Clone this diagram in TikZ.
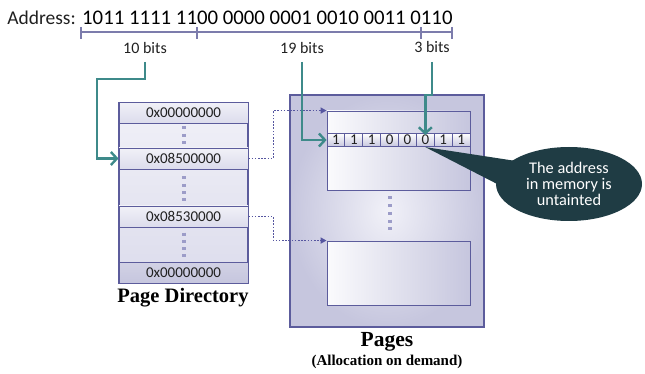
\documentclass[tikz,border=0pt]{standalone}
\usepackage{fontspec}
\setmainfont{Carlito}
\newfontfamily\titlefont{Liberation Serif}
\usetikzlibrary{arrows.meta,shapes.geometric,calc}

\definecolor{framecol}{HTML}{5C5C9C}
\definecolor{rulecol}{HTML}{7C7CAC}
\definecolor{pathteal}{HTML}{3E8A8A}
\definecolor{dotcol}{HTML}{9C9CC8}
\definecolor{linkcol}{HTML}{5656A0}
\definecolor{notebg}{HTML}{1F3C44}
\definecolor{inkcol}{HTML}{202020}
\definecolor{lavlight}{HTML}{F1F1F8}
\definecolor{lavmid}{HTML}{DCDCEC}
\definecolor{lavdark}{HTML}{C6C6DE}

\tikzset{
  px/.style={font=\fontsize{#1}{#1}\selectfont},
  lbl/.style={px=16, text=inkcol, inner sep=0pt},
  pdrow/.style={draw=framecol, line width=0.9pt, minimum width=129, minimum height=21,
                inner sep=0pt, px=15, text=inkcol, top color=#1!40!white, bottom color=#1},
  cell/.style={draw=framecol, line width=0.8pt, minimum width=17.875, minimum height=13.4,
               inner sep=0pt, px=15, text=inkcol, top color=white, bottom color=lavdark},
  pagebox/.style={draw=framecol, line width=0.9pt, inner sep=0pt,
                  left color=white!70!lavlight, right color=lavdark},
  tealarrow/.style={draw=pathteal, line width=2.6pt,
                    -{Straight Barb[length=6pt,width=13pt,line width=2.4pt]}},
  linkarrow/.style={draw=linkcol, line width=1.6pt, dash pattern=on 1.6pt off 1.6pt,
                    -{Triangle[length=6pt,width=6pt]}},
  dotstack/.style={draw=dotcol, line width=3.2pt, dash pattern=on 3pt off 4.3pt},
  tickline/.style={draw=rulecol, line width=1.3pt},
  titletext/.style={font=\titlefont\bfseries\fontsize{#1}{#1}\selectfont, text=black, inner sep=0pt},
}

\begin{document}
\begin{tikzpicture}[x=1pt,y=-1pt]
\useasboundingbox (0,0) rectangle (645,374);

% the address and its split into fields
\node[anchor=base east, px=19.5, text=inkcol, inner sep=0pt] (addrlbl) at (76,25) {Address:};
\node[anchor=base west, px=20.8, text=black, inner sep=0pt] (addrbits) at (82,25)
  {1011 1111 1100 0000 0001 0010 0011 0110};
\draw[tickline] (81,32) -- (452,32);
\foreach \tx in {81,197,421,452}
  \draw[tickline] (\tx,27) -- (\tx,39);
\node[lbl] (f10) at (145,48) {10 bits};
\node[lbl] (f19) at (302,48) {19 bits};
\node[lbl] (f3) at (432,47) {3 bits};
\coordinate (s10) at (145,62);
\coordinate (s19) at (302,62);
\coordinate (s3) at (432,62);

% page directory
\node[draw=framecol, line width=1.2pt, minimum width=129, minimum height=180, inner sep=0pt,
      top color=lavlight, bottom color=lavmid] (pd) at (183.5,193) {};
\node[pdrow=lavmid] (r1) at (183.5,113) {0x00000000};
\node[pdrow=lavmid] (r2) at (183.5,158.5) {0x08500000};
\node[pdrow=lavmid] (r3) at (183.5,216.5) {0x08530000};
\node[pdrow=lavdark, top color=lavdark!80!white] (r4) at (183.5,272.5) {0x00000000};
\draw[dotstack] (184,126.5) -- (184,144);
\draw[dotstack] (184,176.5) -- (184,202);
\draw[dotstack] (184,232.5) -- (184,258);
\node[titletext=20.5] (pdtitle) at (183,298) {Page Directory};

% pages
\node[draw=framecol, line width=1.2pt, minimum width=194, minimum height=232, inner sep=0pt,
      inner color=lavlight, outer color=lavdark] (pages) at (387,211) {};
\node[pagebox, minimum width=143, minimum height=79] (p1) at (398.5,150.5) {};
\node[pagebox, minimum width=143, minimum height=64] (p2) at (398.5,273) {};
\foreach \i/\b in {1/1,2/1,3/1,4/0,5/0,6/0,7/1,8/1}
  \node[cell] (c\i) at ({327+17.875*(\i-0.5)},140) {\b};
\draw[dotstack, dash pattern=on 3pt off 4.7pt] (390,196.5) -- (390,231);
\node[titletext=21.5] (pgtitle) at (387,342) {Pages};
\node[titletext=15] (pgsub) at (387,362) {(Allocation on demand)};

% index paths from the address fields
\draw[tealarrow] (s10) |- (97,79) |- (r2.west);
\draw[tealarrow] (s19) |- (c1.west);
\path (c6.north) ++(0,-38) coordinate (k3);
\draw[tealarrow] (s3) |- (k3) -- ([yshift=-2pt]c6.north);

% directory entries pointing to pages
\draw[linkarrow] (r2.east) -- ++(25,0) |- (p1.north west);
\draw[linkarrow] (r3.east) -- ++(25,0) |- (p2.north west);

% callout
\fill[notebg] (c6.south) -- (516,161) -- (503,187) -- cycle;
\node[ellipse, fill=notebg, minimum width=146, minimum height=74, inner sep=0pt,
      text=white, align=center, font=\fontsize{16.3}{15.8}\selectfont] (note) at (569,184)
  {The address\\in memory is\\untainted};
\end{tikzpicture}
\end{document}
